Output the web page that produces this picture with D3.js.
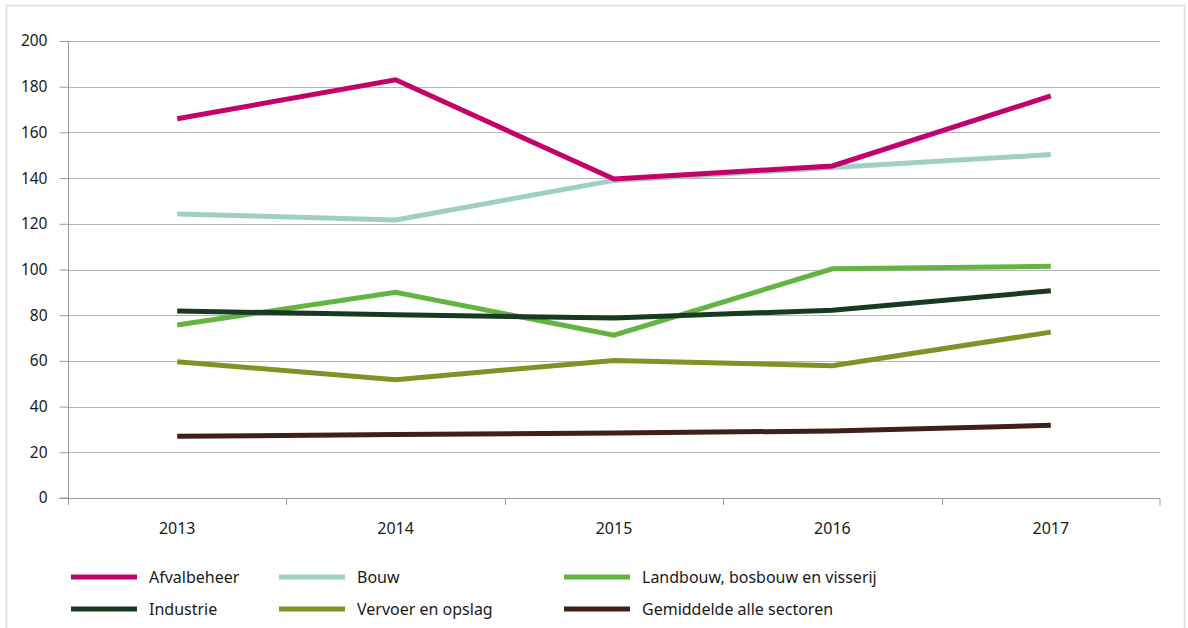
<!DOCTYPE html>
<html><head><meta charset="utf-8">
<script src="https://cdn.jsdelivr.net/npm/d3@7/dist/d3.min.js"></script>
<style>body{margin:0;background:#fff}svg{display:block}text{font-family:"Noto Sans","Open Sans",sans-serif;fill:#1a1a1a}</style>
</head><body><svg id="c" width="1188" height="628"></svg>
<script>
const years = ["2013","2014","2015","2016","2017"];
const yTicks = [0,20,40,60,80,100,120,140,160,180,200];
const seriesNames = ["Afvalbeheer","Bouw","Landbouw, bosbouw en visserij","Industrie","Vervoer en opslag","Gemiddelde alle sectoren"];
const afvalbeheer = [166,183,139.6,145.3,176];
const bouw = [124.3,121.7,139,144.6,150.3];
const landbouw = [75.7,90,71.3,100.3,101.4];
const industrie = [81.8,80.2,78.8,82.2,90.7];
const vervoer = [59.6,51.8,60.2,57.9,72.6];
const gemiddelde = [27,27.8,28.5,29.3,31.8];
const seriesValues = [afvalbeheer,bouw,landbouw,industrie,vervoer,gemiddelde];
const colors = ["#c4006b","#9fcfc3","#64b441","#173a20","#859127","#3f1f19"];
const drawOrder = [1,2,3,4,5,0];

const svg = d3.select("#c");
svg.append("rect").attr("x",6.5).attr("y",5.5).attr("width",1178).attr("height",640)
  .attr("fill","none").attr("stroke","#dcdcdc").attr("stroke-width",1.5);

const L=68,R=1160,T=41,B=498;
const x = d3.scaleBand().domain(years).range([L,R]);
const y = d3.scaleLinear().domain([0,200]).range([B,T]);

// gridlines
svg.append("g").selectAll("line").data(yTicks.filter(d=>d>0)).join("line")
  .attr("x1",L).attr("x2",R).attr("y1",d=>Math.round(y(d))+0.5).attr("y2",d=>Math.round(y(d))+0.5)
  .attr("stroke","#b4b4b4").attr("stroke-width",1);

// y axis
const ya = svg.append("g").attr("transform",`translate(${L+0.5},0)`)
  .call(d3.axisLeft(y).tickValues(yTicks).tickSize(9).tickPadding(12).tickFormat(d3.format("d")));
ya.select(".domain").attr("stroke","#9a9a9a").attr("d",`M-9,${B}H0V${T}`);
ya.selectAll(".tick line").attr("stroke","#9a9a9a");
ya.selectAll("text").style("font-size","15.5px").attr("fill","#1a1a1a");

// x axis
const xa = svg.append("g").attr("transform",`translate(0,${B+0.5})`)
  .call(d3.axisBottom(x).tickSize(0).tickPadding(24));
xa.select(".domain").attr("stroke","#9a9a9a").attr("d",`M${L},0H${R}V7`);
xa.selectAll(".tick line").remove();
xa.selectAll("text").style("font-size","16px").attr("fill","#1a1a1a");
svg.append("g").selectAll("line").data(years).join("line")
  .attr("x1",d=>Math.round(x(d))+0.5).attr("x2",d=>Math.round(x(d))+0.5)
  .attr("y1",B).attr("y2",B+7).attr("stroke","#9a9a9a");

const line = d3.line().x((d,i)=>x(years[i])+x.bandwidth()/2).y(d=>y(d));
svg.append("g").selectAll("path").data(drawOrder).join("path")
  .attr("d",k=>line(seriesValues[k])).attr("fill","none").attr("stroke",k=>colors[k])
  .attr("stroke-width",5).attr("stroke-linejoin","miter");

// legend
const legX=[71,279,564], legY=[577,609];
const lg = svg.append("g");
seriesNames.forEach((n,i)=>{
  const cx=legX[i%3], cy=legY[Math.floor(i/3)];
  lg.append("line").attr("x1",cx).attr("x2",cx+66).attr("y1",cy).attr("y2",cy)
    .attr("stroke",colors[i]).attr("stroke-width",5);
  lg.append("text").attr("x",cx+78).attr("y",cy).attr("dy","0.35em").style("font-size","16px").text(n);
});
</script></body></html>
